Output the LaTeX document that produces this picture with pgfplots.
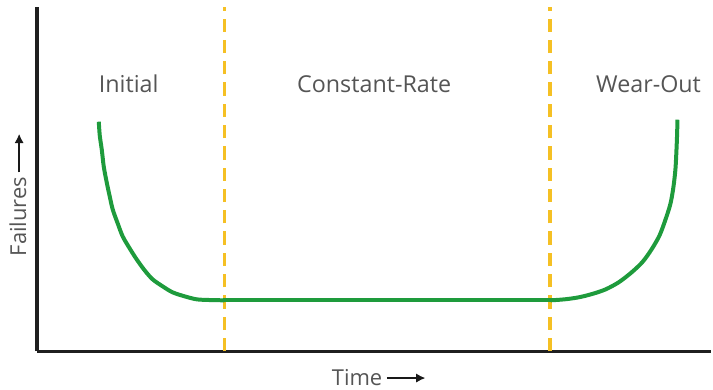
\documentclass[border=0pt]{standalone}
\usepackage{fontspec}
\setmainfont{Open Sans}
\usepackage{pgfplots}
\pgfplotsset{compat=1.18}
\usetikzlibrary{arrows.meta}
\definecolor{curvegreen}{HTML}{1E9B3C}
\definecolor{dashyellow}{HTML}{F5C024}
\definecolor{txtgray}{HTML}{555555}
\newcommand{\longarr}{\tikz[baseline=-0.6ex]\draw[-{Latex[length=7pt,width=7pt]},line width=1.4pt,black!90] (0,0)--(29pt,0);}
\begin{document}
\begin{tikzpicture}
\begin{axis}[
  scale only axis,
  width=507pt, height=258.75pt,
  xmin=37, xmax=713, ymin=37, ymax=382,
  axis lines=left,
  axis line style={line width=2.4pt, black!88, -},
  xtick=\empty, ytick=\empty,
  clip=false,
  xlabel={Time\,\longarr},
  ylabel={Failures\,\longarr},
  xlabel style={at={(axis cs:380,11)}, anchor=center, font=\fontsize{16.5}{19}\selectfont, text=txtgray},
  ylabel style={at={(axis cs:18,194)}, anchor=center, font=\fontsize{16.5}{19}\selectfont, text=txtgray},
]
\path (axis cs:0,0) (axis cs:713,389);
% dashed phase boundaries
\addplot[dashyellow, line width=3pt, dash pattern=on 10pt off 6pt] coordinates {(225,37) (225,382)};
\addplot[dashyellow, line width=3pt, dash pattern=on 10pt off 6pt] coordinates {(551,37) (551,382)};
% bathtub curve
\addplot[curvegreen, line width=3pt, smooth] coordinates {
 (99,267) (100,253) (102,239) (104,222) (107,206) (110,192) (113,179) (118,165) (123,152) (130,140) (137,129) (145,118) (153,109) (163,102) (173,96) (185,92) (197,89) (210,88.3) (225,88)
};
\addplot[curvegreen, line width=3pt] coordinates {(224,88) (553,88)};
\addplot[curvegreen, line width=3pt, smooth] coordinates {
 (552,88) (566,89) (580,91) (594,94.5) (607,99) (620,106) (633,116) (644,126.5) (653,139) (661,153) (667,169) (672,185) (675,202) (677,220) (678,239) (678.6,254) (679,269)
};
\node[font=\fontsize{17.5}{20}\selectfont, text=txtgray] at (axis cs:129,305) {Initial};
\node[font=\fontsize{17.5}{20}\selectfont, text=txtgray] at (axis cs:375,305) {Constant-Rate};
\node[font=\fontsize{17.5}{20}\selectfont, text=txtgray] at (axis cs:650,305) {Wear-Out};
\end{axis}
\end{tikzpicture}
\end{document}
